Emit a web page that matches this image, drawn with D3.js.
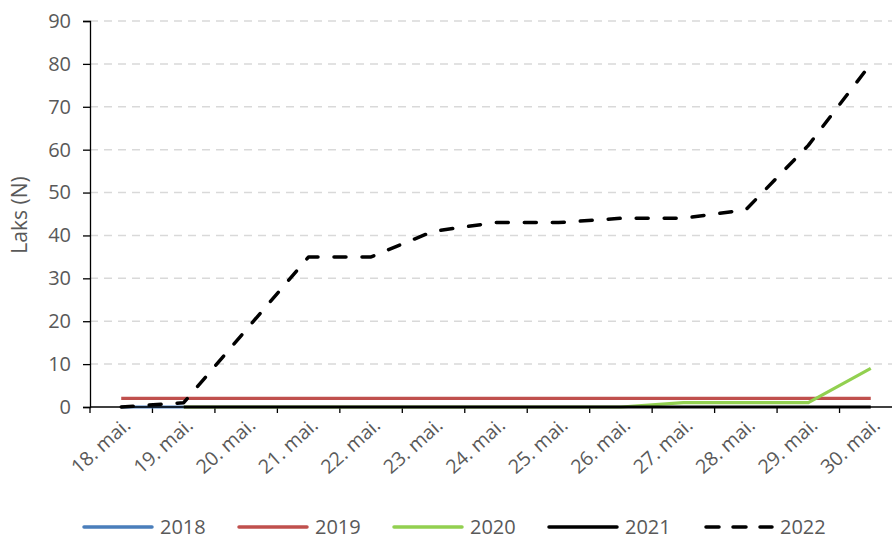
<!DOCTYPE html>
<html><head><meta charset="utf-8">
<script src="https://cdn.jsdelivr.net/npm/d3@7"></script>
<style>body{margin:0;background:#fff;overflow:hidden}svg{display:block}</style>
</head><body>
<svg id="c" width="892" height="540"></svg>
<script>
const categories = ["18. mai.","19. mai.","20. mai.","21. mai.","22. mai.","23. mai.","24. mai.","25. mai.","26. mai.","27. mai.","28. mai.","29. mai.","30. mai."];
const s2018 = [0,0,null,null,null,null,null,null,null,null,null,null,null];
const s2019 = [2,2,2,2,2,2,2,2,2,2,2,2,2];
const s2020 = [null,0,0,0,0,0,0,0,0,1,1,1,9];
const s2021 = [null,0,0,0,0,0,0,0,0,0,0,0,0];
const s2022 = [0,1,18,35,35,41,43,43,44,44,46,61,80];
const yTicks = [0,10,20,30,40,50,60,70,80,90];
const seriesNames = ["2018","2019","2020","2021","2022"];
const seriesColors = ["#4a7ebb","#c0504d","#92d050","#000000","#000000"];
const seriesDash = [null,null,null,null,"12,16"];

const series = [s2018,s2019,s2020,s2021,s2022].map((v,i)=>({name:seriesNames[i],values:v,color:seriesColors[i],dash:seriesDash[i]}));

const svg = d3.select("#c");
const font = "'Open Sans', 'Noto Sans', sans-serif";
const x = d3.scaleBand().domain(categories).range([90, 902]).paddingInner(0).paddingOuter(0);
const y = d3.scaleLinear().domain([0,90]).range([407, 21]);
const cx = d => x(d) + x.bandwidth()/2;

// gridlines
svg.append("g").selectAll("line").data(yTicks.filter(t=>t>0)).join("line")
  .attr("x1",90).attr("x2",902).attr("y1",d=>y(d)).attr("y2",d=>y(d))
  .attr("stroke","#d9d9d9").attr("stroke-width",1.5).attr("stroke-dasharray","8,6");

// y axis
const yAxis = svg.append("g").attr("transform","translate(90,0)")
  .call(d3.axisLeft(y).tickValues(yTicks).tickSize(7).tickPadding(12));
yAxis.select(".domain").attr("stroke","#000").attr("stroke-width",1.3);
yAxis.selectAll(".tick line").attr("stroke","#000").attr("stroke-width",1.3);
yAxis.selectAll("text").attr("fill","#595959").style("font-size","20px").style("font-family",font);

// x axis (ticks at band boundaries)
const xg = svg.append("g");
xg.selectAll("line.t").data(categories).join("line").attr("class","t")
  .attr("x1",d=>x(d)).attr("x2",d=>x(d)).attr("y1",407).attr("y2",413)
  .attr("stroke","#000").attr("stroke-width",1.3);
xg.selectAll("text").data(categories).join("text")
  .attr("transform",d=>`translate(${cx(d)+6},${422}) rotate(-42)`)
  .attr("text-anchor","end").attr("dy","0.35em")
  .attr("fill","#595959").style("font-size","19.5px").style("font-family",font)
  .text(d=>d);

// lines
const line = d3.line().defined(d=>d.v!=null).x(d=>cx(d.c)).y(d=>y(d.v));
series.forEach(s=>{
  const pts = categories.map((c,i)=>({c, v:s.values[i]}));
  svg.append("path").datum(pts).attr("d",line)
    .attr("fill","none").attr("stroke",s.color).attr("stroke-width",s.dash?3.5:3.2)
    .attr("stroke-linejoin","round").attr("stroke-linecap",s.dash?"round":"butt")
    .attr("stroke-dasharray",s.dash);
});

// x axis domain line
svg.append("line").attr("x1",90).attr("x2",902).attr("y1",407).attr("y2",407)
  .attr("stroke","#000").attr("stroke-width",1.3);

// y axis title
svg.append("text").attr("transform","translate(27,215) rotate(-90)")
  .attr("text-anchor","middle").attr("fill","#595959")
  .style("font-size","21px").style("font-family",font).text("Laks (N)");

// legend
const lg = svg.append("g").selectAll("g").data(series).join("g")
  .attr("transform",(d,i)=>`translate(${84+i*155},527)`);
lg.append("line").attr("x1",d=>d.dash?2:0).attr("x2",68).attr("y1",0).attr("y2",0)
  .attr("stroke",d=>d.color).attr("stroke-width",3.5)
  .attr("stroke-linecap","round").attr("stroke-dasharray",d=>d.dash?"13,14":null);
lg.append("text").attr("x",76).attr("y",0).attr("dy","0.35em")
  .attr("fill","#595959").style("font-size","20px").style("font-family",font)
  .text(d=>d.name);
</script>
</body></html>
